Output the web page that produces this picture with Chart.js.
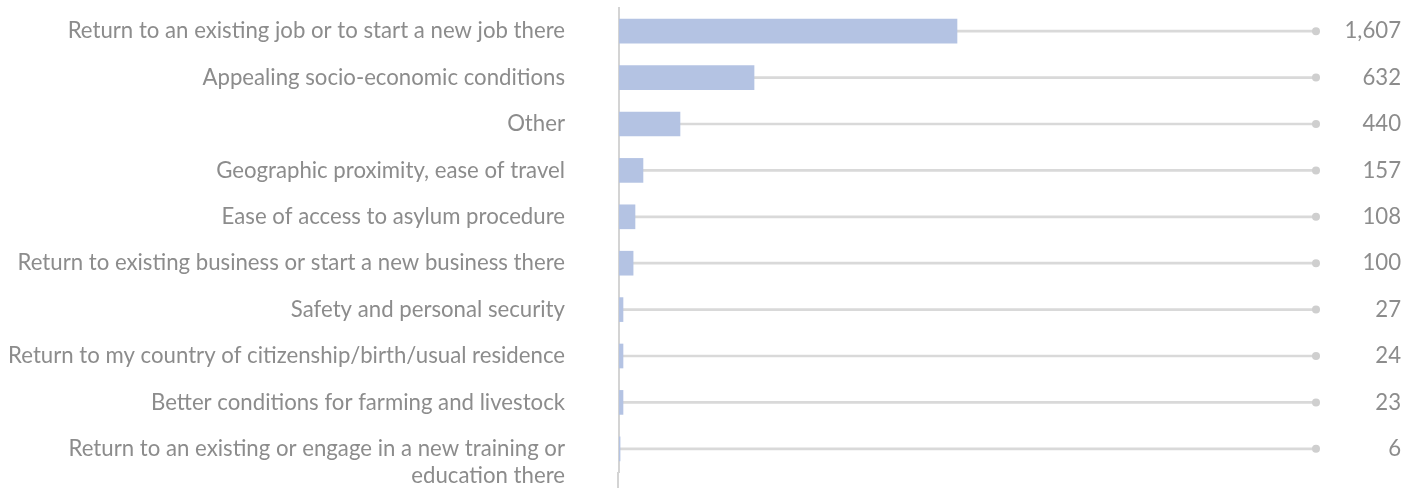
<!DOCTYPE html>
<html>
<head>
<meta charset="utf-8">
<script src="https://cdn.jsdelivr.net/npm/chart.js@4/dist/chart.umd.min.js"></script>
<style>
  html, body { margin: 0; padding: 0; background: #ffffff; }
  #wrap { width: 1418px; height: 488px; position: relative; }
</style>
</head>
<body>
<div id="wrap"><canvas id="c" width="1418" height="488"></canvas></div>
<script>
// ---- data ----
const categories = [
  "Return to an existing job or to start a new job there",
  "Appealing socio-economic conditions",
  "Other",
  "Geographic proximity, ease of travel",
  "Ease of access to asylum procedure",
  "Return to existing business or start a new business there",
  "Safety and personal security",
  "Return to my country of citizenship/birth/usual residence",
  "Better conditions for farming and livestock",
  ["", "Return to an existing or engage in a new training or", "education there"]
];
// counts printed on the right
const counts = [1607, 632, 440, 157, 108, 100, 27, 24, 23, 6];
// bar lengths as drawn (same units as the counts)
const barLengths = [1607, 642, 290, 114, 76, 67, 19, 19, 19, 5];
// background track end
const trackEnd = 3314;
const trackValues = categories.map(() => trackEnd);
const countLabels = counts.map(v => v.toLocaleString('en-US'));

const textColor = '#8c8c8c';
const fontFamily = 'Lato, "Open Sans", sans-serif';
const fontSize = 22.2;

const axisExtend = {
  id: 'axisExtend',
  afterDraw(chart) {
    const ctx = chart.ctx;
    const a = chart.chartArea;
    ctx.save();
    ctx.strokeStyle = '#d4d4d4';
    ctx.lineWidth = 2;
    ctx.beginPath();
    ctx.moveTo(a.left - 1, a.bottom);
    ctx.lineTo(a.left - 1, chart.height);
    ctx.stroke();
    ctx.restore();
  }
};

new Chart(document.getElementById('c'), {
  type: 'bar',
  data: {
    labels: categories,
    datasets: [
      {
        label: 'bars',
        data: barLengths,
        backgroundColor: '#b4c3e3',
        barThickness: 24,
        grouped: false,
        order: 0,
        yAxisID: 'y'
      },
      {
        type: 'line',
        label: 'dots',
        indexAxis: 'y',
        data: trackValues,
        showLine: false,
        pointRadius: 4,
        pointBackgroundColor: '#cfcfcf',
        pointBorderWidth: 0,
        clip: false,
        order: 1,
        yAxisID: 'y'
      },
      {
        label: 'track',
        data: trackValues,
        backgroundColor: '#d9d9d9',
        barThickness: 2,
        grouped: false,
        order: 2,
        yAxisID: 'y'
      }
    ]
  },
  options: {
    indexAxis: 'y',
    responsive: false,
    animation: false,
    layout: { padding: { left: 0, right: 17, top: 8, bottom: 16 } },
    plugins: { legend: { display: false }, tooltip: { enabled: false } },
    scales: {
      x: {
        min: 0,
        max: trackEnd,
        display: false
      },
      y: {
        position: 'left',
        grid: { display: false, drawTicks: false },
        border: { display: true, color: '#d4d4d4', width: 2 },
        ticks: {
          padding: 54,
          color: textColor,
          font: { family: fontFamily, size: fontSize },
          autoSkip: false
        },
        afterFit(scale) { scale.width = 619; scale.paddingTop = 0; scale.paddingBottom = 0; }
      },
      y2: {
        type: 'category',
        position: 'right',
        labels: countLabels,
        offset: true,
        grid: { display: false, drawTicks: false },
        border: { display: false },
        ticks: {
          crossAlign: 'far',
          padding: 0,
          color: textColor,
          font: { family: fontFamily, size: fontSize },
          autoSkip: false
        },
        afterFit(scale) { scale.width = 85; scale.paddingTop = 0; scale.paddingBottom = 0; }
      }
    }
  },
  plugins: [axisExtend]
});
</script>
</body>
</html>
